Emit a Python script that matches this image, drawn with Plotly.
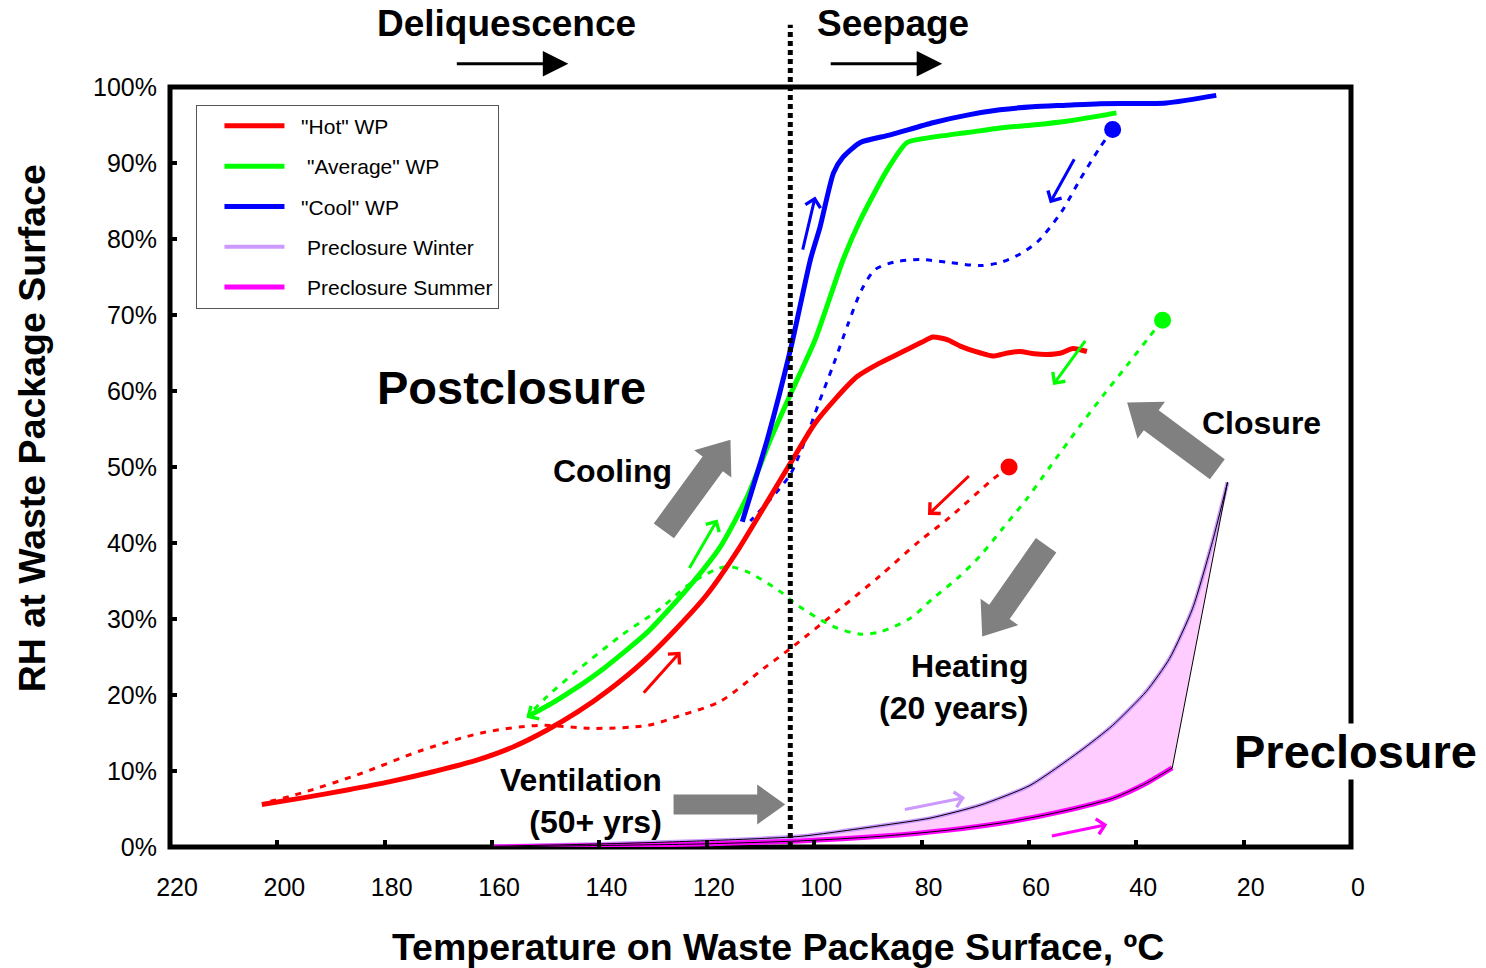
import math
import plotly.graph_objects as go

FONT = "Arial, 'Liberation Sans', sans-serif"

# ---------------- data (temperature degC, RH %) ----------------
hot_T = [202.9, 195, 187, 179, 171, 163, 156, 150, 144, 138, 132, 126, 120, 114, 108, 104,
         100, 96, 92, 88, 84, 80, 77.9, 75, 72.8, 69, 66.7, 64, 61.7, 59, 56.7, 54, 51.8, 49.2]
hot_RH = [5.6, 6.5, 7.5, 8.6, 9.9, 11.4, 13.2, 15.3, 17.8, 20.8, 24.3, 28.5, 33.2, 39.3, 46.3,
          51.0, 55.6, 59.0, 61.9, 63.6, 65.0, 66.4, 67.1, 66.7, 65.9, 65.0, 64.6, 65.0, 65.2,
          64.9, 64.8, 65.0, 65.6, 65.2]

hot_heat_T = [63.7, 66.7, 74.7, 80.3, 87.7, 95.1, 103.9, 109.4, 117.4, 124.9, 131.0, 141.0,
              151.4, 162.0, 173.2, 184.3, 195.5, 202.5]
hot_heat_RH = [50.0, 48.4, 43.4, 40.3, 35.7, 31.4, 26.4, 23.5, 19.2, 17.3, 16.0, 15.6,
               16.0, 15.0, 12.7, 9.7, 7.1, 5.8]

avg_T = [153.3, 149.6, 144.4, 139.2, 131.0, 123.6, 117.4, 112.4, 108.1, 104.4, 99.8, 94.6,
         91.4, 86.4, 82.7, 77.9, 71.5, 65.4, 59.3, 53.0, 46.8, 43.7]
avg_RH = [17.2, 18.6, 20.9, 23.5, 28.3, 34.0, 39.6, 46.2, 53.7, 59.6, 66.8, 77.3,
          82.5, 89.1, 92.7, 93.4, 94.0, 94.6, 95.0, 95.5, 96.2, 96.6]

avg_heat_T = [35.1, 37.5, 41.8, 46.3, 50.5, 56.1, 60.4, 64.9, 69.1, 73.4, 77.9, 82.1, 87.7,
              91.4, 96.4, 103.1, 106.3, 112.4, 116.1, 118.7, 123.6, 128.6, 136.0, 144.7,
              149.6, 153.3]
avg_heat_RH = [69.3, 67.2, 63.3, 59.3, 55.4, 50.0, 45.8, 41.9, 38.3, 35.3, 32.7, 30.1, 28.3,
               28.0, 29.0, 31.8, 33.6, 36.2, 36.9, 36.4, 34.4, 31.4, 27.8, 22.9,
               19.9, 17.3]

cool_T = [113.4, 108.7, 104.4, 100.7, 98.9, 96.4, 94.6, 91.4, 85.8, 77.9, 71.5, 65.4,
          59.3, 53.0, 46.8, 34.4, 25.1]
cool_RH = [42.8, 53.7, 65.5, 77.3, 81.6, 88.7, 90.8, 92.7, 93.7, 95.3, 96.3, 97.0,
           97.4, 97.6, 97.8, 97.9, 98.9]

cool_heat_T = [44.4, 46.8, 50.5, 53.9, 58.3, 61.7, 65.4, 69.1, 74.7, 80.3, 84.9, 88.6,
               91.1, 93.7, 96.4, 99.2, 101.6, 104.4, 108.1, 111.9]
cool_heat_RH = [94.4, 92.0, 87.8, 83.6, 79.7, 78.0, 76.9, 76.5, 76.9, 77.3, 77.0, 76.0,
                73.4, 68.8, 63.5, 58.3, 53.7, 49.1, 45.8, 42.9]

winter_T = [159.6, 139.7, 121.2, 102.6, 87.7, 78.4, 69.1, 59.8, 50.5, 44.4, 38.1, 33.8,
            29.5, 25.8, 23.0]
winter_RH = [0.1, 0.4, 0.8, 1.4, 2.8, 3.8, 5.5, 8.1, 12.6, 16.0, 20.5, 24.8,
             31.4, 40.2, 48.0]

summer_T = [159.6, 139.7, 121.2, 102.6, 87.7, 75.3, 63.0, 53.7, 44.4, 38.1, 33.3]
summer_RH = [0.0, 0.2, 0.4, 0.8, 1.4, 2.2, 3.4, 4.7, 6.4, 8.4, 10.4]

closure_T = [63.7, 35.1, 44.4]
closure_RH = [50.0, 69.3, 94.4]
closure_colors = ["#ff0000", "#00ff00", "#0000ff"]

boiling_T = 104.45

x_ticks = list(range(0, 221, 20))
y_ticks = list(range(0, 101, 10))
y_ticktext = [f"{v}%" for v in y_ticks]

RED, GREEN, BLUE = "#ff0000", "#00ff00", "#0000ff"
LAV, MAG = "#cc99ff", "#ff00ff"
GREY = "#808080"
NB = "\u00a0"

# layout geometry
W, H = 1486, 968
ML, MR, MT, MB = 170, 135, 87, 121
X0, X1, Y0, Y1 = 220, 0, 0, 100
SX = (W - ML - MR) / (X0 - X1)   # px per degree
SY = (H - MT - MB) / (Y1 - Y0)   # px per %

fig = go.Figure()

# preclosure band (fill between summer and winter)
fig.add_trace(go.Scatter(x=summer_T, y=summer_RH, mode="lines", showlegend=False,
                         hoverinfo="skip", line=dict(color="rgba(0,0,0,0)", width=0,
                                                     shape="spline", smoothing=0.6)))
fig.add_trace(go.Scatter(x=winter_T, y=winter_RH, mode="lines", showlegend=False,
                         hoverinfo="skip", fill="tonexty", fillcolor="#ffccff",
                         line=dict(color="rgba(0,0,0,0)", width=0, shape="spline",
                                   smoothing=0.6)))
fig.add_trace(go.Scatter(x=winter_T, y=winter_RH, mode="lines",
                         name=NB * 3 + "Preclosure Winter",
                         line=dict(color=LAV, width=4, shape="spline", smoothing=0.6),
                         legendrank=4, legendgroup="w"))
fig.add_trace(go.Scatter(x=summer_T, y=summer_RH, mode="lines",
                         name=NB * 3 + "Preclosure Summer",
                         line=dict(color=MAG, width=5, shape="spline", smoothing=0.6),
                         legendrank=5, legendgroup="s"))
for tt, rr in ((winter_T, winter_RH), (summer_T, summer_RH)):
    fig.add_trace(go.Scatter(x=tt, y=rr, mode="lines", showlegend=False, hoverinfo="skip",
                             line=dict(color="black", width=1, shape="spline", smoothing=0.6)))
fig.add_trace(go.Scatter(x=[winter_T[-1], summer_T[-1]], y=[winter_RH[-1], summer_RH[-1]],
                         mode="lines", showlegend=False, hoverinfo="skip",
                         line=dict(color="black", width=1)))

DOT = "6px,7px"
fig.add_trace(go.Scatter(x=hot_heat_T, y=hot_heat_RH, mode="lines", showlegend=False,
                         line=dict(color=RED, width=3, dash=DOT, shape="spline", smoothing=0.8)))
fig.add_trace(go.Scatter(x=avg_heat_T, y=avg_heat_RH, mode="lines", showlegend=False,
                         line=dict(color=GREEN, width=3, dash=DOT, shape="spline", smoothing=0.8)))
fig.add_trace(go.Scatter(x=cool_heat_T, y=cool_heat_RH, mode="lines", showlegend=False,
                         line=dict(color=BLUE, width=3, dash=DOT, shape="spline", smoothing=0.8)))

fig.add_trace(go.Scatter(x=hot_T, y=hot_RH, mode="lines", name=NB * 2 + '"Hot" WP',
                         legendrank=1, legendgroup="h",
                         line=dict(color=RED, width=5, shape="spline", smoothing=0.6)))
fig.add_trace(go.Scatter(x=avg_T, y=avg_RH, mode="lines", name=NB * 3 + '"Average" WP',
                         legendrank=2, legendgroup="a",
                         line=dict(color=GREEN, width=5, shape="spline", smoothing=0.6)))
fig.add_trace(go.Scatter(x=cool_T, y=cool_RH, mode="lines", name=NB * 2 + '"Cool" WP',
                         legendrank=3, legendgroup="c",
                         line=dict(color=BLUE, width=5, shape="spline", smoothing=0.6)))

fig.add_trace(go.Scatter(x=closure_T, y=closure_RH, mode="markers", showlegend=False,
                         marker=dict(color=closure_colors, size=17)))

# ---------------- shapes ----------------
# boiling / deliquescence boundary
fig.add_shape(type="line", xref="x", yref="paper", x0=boiling_T, x1=boiling_T, y0=0, y1=1.082,
              line=dict(color="black", width=5, dash="5px,4px"))
# plot frame
fig.add_shape(type="rect", xref="paper", yref="paper", x0=0, x1=1, y0=0, y1=1,
              line=dict(color="black", width=5), layer="below")


def fat_arrow(tail, tip, body=24, head_w=46, head_len=30):
    """Filled block arrow, dimensions in pixels, returned as a data-space path."""
    tx, ty = (X0 - tail[0]) * SX, -tail[1] * SY
    hx, hy = (X0 - tip[0]) * SX, -tip[1] * SY
    L = math.hypot(hx - tx, hy - ty)
    ux, uy = (hx - tx) / L, (hy - ty) / L
    nx, ny = -uy, ux
    bx, by = hx - ux * head_len, hy - uy * head_len
    pts = [
        (tx + nx * body / 2, ty + ny * body / 2),
        (bx + nx * body / 2, by + ny * body / 2),
        (bx + nx * head_w / 2, by + ny * head_w / 2),
        (hx, hy),
        (bx - nx * head_w / 2, by - ny * head_w / 2),
        (bx - nx * body / 2, by - ny * body / 2),
        (tx - nx * body / 2, ty - ny * body / 2),
    ]
    d = [(X0 - px / SX, -py / SY) for px, py in pts]
    return "M " + " L ".join(f"{a:.3f},{b:.3f}" for a, b in d) + " Z"


for tail, tip, bw, hw, hl in [((128.0, 41.6), (115.6, 53.6), 25, 46, 30),
                              ((24.9, 49.7), (41.7, 58.5), 25, 46, 30),
                              ((56.8, 39.7), (68.7, 27.7), 25, 46, 30),
                              ((126.2, 5.6), (105.4, 5.6), 20, 40, 28)]:
    fig.add_shape(type="path", xref="x", yref="y", path=fat_arrow(tail, tip, bw, hw, hl),
                  fillcolor=GREY, line=dict(width=0), layer="above")

annotations = []


def small_arrow(tail, tip, color, w=3, size=1.0):
    annotations.append(dict(x=tip[0], y=tip[1], ax=tail[0], ay=tail[1], xref="x", yref="y",
                            axref="x", ayref="y", text="", showarrow=True, arrowhead=4,
                            arrowwidth=w, arrowsize=size, arrowcolor=color))


small_arrow((102.2, 78.4), (99.8, 85.6), BLUE)
small_arrow((51.4, 90.7), (56.1, 84.7), BLUE)
small_arrow((123.4, 36.5), (118.0, 43.1), GREEN)
small_arrow((49.3, 66.8), (55.5, 60.8), GREEN)
small_arrow((149.1, 19.0), (153.6, 17.0), GREEN)
small_arrow((132.0, 20.1), (124.9, 25.7), RED)
small_arrow((70.9, 49.0), (78.8, 43.7), RED)
small_arrow((83.4, 4.9), (71.9, 6.5), LAV)
small_arrow((56.0, 1.4), (45.4, 2.96), MAG)

# top direction arrows
for tipT in (145.8, 76.15):
    annotations.append(dict(x=tipT, y=1.0307, xref="x", yref="paper", axref="pixel",
                            ayref="pixel", ax=-113, ay=0, text="", showarrow=True,
                            arrowhead=2, arrowwidth=3, arrowsize=1.7, arrowcolor="black"))


def label(text, x, y, size, xref="x", yref="y", xanchor="center", align="center", **kw):
    annotations.append(dict(text=text, x=x, y=y, xref=xref, yref=yref, xanchor=xanchor,
                            yanchor="middle", align=align, showarrow=False,
                            font=dict(family=FONT, size=size, color="black"), **kw))


label("<b>Deliquescence</b>", 157.3, 1.0833, 37, yref="paper")
label("<b>Seepage</b>", 85.3, 1.0833, 37, yref="paper")
label("<b>Postclosure</b>", 156.4, 60.4, 47)
label("<b>Cooling</b>", 137.6, 49.5, 32)
label("<b>Closure</b>", 16.6, 55.8, 32)
label("<b>Heating<br>(20 years)</b>", 59.8, 21.0, 32, xanchor="right", align="right")
label("<b>Ventilation<br>(50+ yrs)</b>", 127.9, 6.0, 32, xanchor="right", align="right")
label("<b>Preclosure</b>", 1.0042, 0.1256, 47, xref="paper", yref="paper", bgcolor="white")
label("<b>Temperature on Waste Package Surface, ºC</b>", 0.515, -0.132, 37.5,
      xref="paper", yref="paper")
label("<b>RH at Waste Package Surface</b>", -0.1172, 0.5505, 37.5, xref="paper", yref="paper",
      textangle=-90)

fig.update_layout(
    width=W, height=H,
    margin=dict(l=ML, r=MR, t=MT, b=MB),
    paper_bgcolor="white", plot_bgcolor="white",
    font=dict(family=FONT, color="black"),
    annotations=annotations,
    showlegend=True,
    legend=dict(x=0.0224, y=0.9767, xanchor="left", yanchor="top",
                bgcolor="white", bordercolor="#555555", borderwidth=1,
                font=dict(family=FONT, size=21, color="black"),
                tracegroupgap=10, itemwidth=60, indentation=22),
)
fig.update_xaxes(range=[X0, X1], autorange=False, tickvals=x_ticks, showgrid=False,
                 zeroline=False, showline=False,
                 ticks="inside", ticklen=7, tickwidth=4, tickcolor="black",
                 tickfont=dict(family=FONT, size=25, color="black"),
                 ticklabelstandoff=23, ticklabelshift=-7)
fig.update_yaxes(range=[Y0, Y1], autorange=False, tickvals=y_ticks, ticktext=y_ticktext,
                 showgrid=False, zeroline=False, showline=False,
                 ticks="inside", ticklen=7, tickwidth=4, ticklabelstandoff=12,
                 tickcolor="black", tickfont=dict(family=FONT, size=25, color="black"))

fig.write_html("out.html")
